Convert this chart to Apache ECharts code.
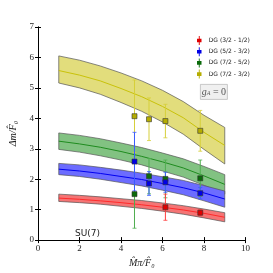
<!DOCTYPE html>
<html><head><meta charset="utf-8">
<script src="https://cdn.jsdelivr.net/npm/echarts@6/dist/echarts.min.js"></script>
<style>html,body{margin:0;padding:0;background:#fff}#c{width:273px;height:273px}</style>
</head><body><div id="c"></div>
<script>
// ---- data ----
const bandX = [1, 2, 3, 4, 5, 6, 7, 8, 9];
const yellowMid = [5.57, 5.42, 5.23, 4.98, 4.71, 4.39, 4.02, 3.54, 3.11];
const yellowUp  = [6.05, 5.91, 5.72, 5.49, 5.23, 4.92, 4.55, 4.10, 3.70];
const yellowLo  = [5.16, 5.00, 4.79, 4.52, 4.23, 3.88, 3.48, 2.98, 2.50];
const greenMid  = [3.25, 3.16, 3.05, 2.91, 2.75, 2.57, 2.37, 2.11, 1.83];
const greenUp   = [3.52, 3.44, 3.33, 3.19, 3.04, 2.86, 2.67, 2.42, 2.15];
const greenLo   = [2.98, 2.89, 2.77, 2.63, 2.47, 2.27, 2.07, 1.80, 1.51];
const blueMid   = [2.33, 2.27, 2.19, 2.09, 1.99, 1.86, 1.72, 1.55, 1.35];
const blueUp    = [2.52, 2.47, 2.39, 2.30, 2.20, 2.08, 1.96, 1.79, 1.61];
const blueLo    = [2.15, 2.09, 2.00, 1.89, 1.78, 1.64, 1.49, 1.29, 1.08];
const redMid    = [1.38, 1.34, 1.29, 1.23, 1.16, 1.08, 0.99, 0.88, 0.75];
const redUp     = [1.51, 1.47, 1.42, 1.36, 1.30, 1.22, 1.13, 1.02, 0.90];
const redLo     = [1.27, 1.23, 1.18, 1.11, 1.04, 0.95, 0.85, 0.73, 0.60];

const redPtsX = [6.14, 7.82];
const redPtsY = [1.08, 0.90];
const redPtsE = [0.43, 0.10];
const bluePtsX = [4.65, 5.35, 6.14, 7.82];
const bluePtsY = [2.58, 1.86, 1.90, 1.54];
const bluePtsE = [0.96, 0.39, 0.33, 0.19];
const greenPtsX = [4.65, 5.35, 6.14, 7.82];
const greenPtsY = [1.51, 2.10, 2.01, 2.03];
const greenPtsE = [1.12, 0.58, 0.62, 0.60];
const yellowPtsX = [4.65, 5.35, 6.14, 7.82];
const yellowPtsY = [4.07, 3.97, 3.91, 3.59];
const yellowPtsE = [1.19, 0.70, 0.55, 0.67];

const seriesNames = ['DG (3/2 - 1/2)', 'DG (5/2 - 3/2)', 'DG (7/2 - 5/2)', 'DG (7/2 - 3/2)'];
const xTicks = [0, 2, 4, 6, 8, 10];
const yTicks = [0, 1, 2, 3, 4, 5, 6, 7];

// ---- build ----
function bandSeries(up, lo, mid, fill, lineColor) {
  return {
    type: 'custom', silent: true, z: 2,
    data: [[0]],
    renderItem: function (params, api) {
      const upper = bandX.map((x, i) => api.coord([x, up[i]]));
      const lower = bandX.map((x, i) => api.coord([x, lo[i]])).reverse();
      const center = bandX.map((x, i) => api.coord([x, mid[i]]));
      return {
        type: 'group', children: [
          { type: 'polygon', shape: { points: upper.concat(lower) },
            style: { fill: fill, stroke: '#555', lineWidth: 0.7 } },
          { type: 'polyline', shape: { points: center },
            style: { fill: null, stroke: lineColor, lineWidth: 1 } }
        ]
      };
    }
  };
}
function errSeries(xs, ys, es, color) {
  return {
    type: 'custom', silent: true, z: 3,
    data: xs.map((x, i) => [x, ys[i], es[i]]),
    renderItem: function (params, api) {
      const x = api.value(0), y = api.value(1), e = api.value(2);
      const top = api.coord([x, y + e]);
      const bot = api.coord([x, y - e]);
      return {
        type: 'group', children: [
          { type: 'line', shape: { x1: top[0], y1: top[1], x2: bot[0], y2: bot[1] },
            style: { stroke: color, lineWidth: 1 } },
          { type: 'line', shape: { x1: top[0] - 2, y1: top[1], x2: top[0] + 2, y2: top[1] },
            style: { stroke: color, lineWidth: 0.8 } },
          { type: 'line', shape: { x1: bot[0] - 2, y1: bot[1], x2: bot[0] + 2, y2: bot[1] },
            style: { stroke: color, lineWidth: 0.8 } }
        ]
      };
    }
  };
}
function ptSeries(name, xs, ys, color) {
  return {
    type: 'scatter', name: name, z: 4, symbol: 'rect', symbolSize: 5,
    data: xs.map((x, i) => [x, ys[i]]),
    itemStyle: { color: color, borderColor: '#333', borderWidth: 0.6, opacity: 1 }
  };
}

const serif = 'Liberation Serif';
const iconPath = 'path://M4.5,0h1v3h2v4h-2v3h-1v-3h-2v-4h2z';

const option = {
  animation: false,
  backgroundColor: '#fff',
  grid: { left: 34, right: 27.5, top: 27, bottom: 28, containLabel: false },
  legend: {
    data: seriesNames, orient: 'vertical', left: 192, top: 31,
    itemWidth: 5, itemHeight: 9, itemGap: 2.2, icon: iconPath,
    itemStyle: { borderWidth: 0 },
    textStyle: { fontSize: 6, fontFamily: 'DejaVu Sans', color: '#222', padding: [0, 0, 0, 2] }
  },
  xAxis: [
    { type: 'value', min: 0, max: 10, interval: 2, position: 'bottom',
      name: 'M\u0302\u03c0/F\u0302\u2080', nameLocation: 'middle', nameGap: 16,
      nameTextStyle: { fontFamily: serif, fontStyle: 'italic', fontSize: 10, color: '#222' },
      axisLine: { lineStyle: { color: '#000', width: 1 } },
      axisTick: { inside: true, length: 3, lineStyle: { color: '#000' } },
      axisLabel: { fontFamily: serif, fontSize: 9, color: '#222', margin: 4 },
      splitLine: { show: false } },
    { type: 'value', min: 0, max: 10, interval: 2, position: 'top',
      axisLine: { lineStyle: { color: '#000', width: 1 } },
      axisTick: { inside: true, length: 3, lineStyle: { color: '#000' } },
      axisLabel: { show: false }, splitLine: { show: false } }
  ],
  yAxis: [
    { type: 'value', min: 0, max: 7, interval: 1, position: 'left',
      name: '\u0394m/F\u0302\u2080', nameLocation: 'middle', nameGap: 20, nameRotate: 90,
      nameTextStyle: { fontFamily: serif, fontStyle: 'italic', fontSize: 10, color: '#222' },
      axisLine: { lineStyle: { color: '#000', width: 1 } },
      axisTick: { inside: true, length: 3, lineStyle: { color: '#000' } },
      axisLabel: { fontFamily: serif, fontSize: 9, color: '#222', margin: 4 },
      splitLine: { show: false } },
    { type: 'value', min: 0, max: 7, interval: 1, position: 'right',
      axisLine: { lineStyle: { color: '#000', width: 1 } },
      axisTick: { inside: true, length: 3, lineStyle: { color: '#000' } },
      axisLabel: { show: false }, splitLine: { show: false } }
  ],
  graphic: [
    { type: 'group', left: 200, top: 84, children: [
      { type: 'rect', shape: { x: 0, y: 0, width: 27, height: 15 },
        style: { fill: '#f0f0f0', stroke: '#bbb', lineWidth: 0.8 } },
      { type: 'text', x: 13.5, y: 7.5, style: {
        text: '{g|g}{s|A}{t| = 0}', align: 'center', verticalAlign: 'middle',
        rich: { g: { fontFamily: serif, fontStyle: 'italic', fontSize: 10, fill: '#555' },
                s: { fontFamily: serif, fontStyle: 'italic', fontSize: 6, fill: '#555', verticalAlign: 'bottom', padding: [4,0,0,0] },
                t: { fontFamily: serif, fontSize: 10, fill: '#555' } } } }
    ] },
    { type: 'text', left: 75, top: 229, style: { text: 'SU(7)', fontFamily: 'DejaVu Sans', fontSize: 9, fill: '#222' } }
  ],
  series: [
    bandSeries(yellowUp, yellowLo, yellowMid, '#e2dd7c', '#c9c20a'),
    bandSeries(greenUp, greenLo, greenMid, '#82c282', '#1f8c1f'),
    bandSeries(blueUp, blueLo, blueMid, '#6c6cff', '#0000f0'),
    bandSeries(redUp, redLo, redMid, '#f57474', '#ff2a2a'),
    errSeries(yellowPtsX, yellowPtsY, yellowPtsE, '#d6cf3a'),
    errSeries(greenPtsX, greenPtsY, greenPtsE, '#4fae4f'),
    errSeries(bluePtsX, bluePtsY, bluePtsE, '#3a5cff'),
    errSeries(redPtsX, redPtsY, redPtsE, '#ff3c3c'),
    ptSeries(seriesNames[3], yellowPtsX, yellowPtsY, '#b5ad00'),
    ptSeries(seriesNames[2], greenPtsX, greenPtsY, '#0a6a0a'),
    ptSeries(seriesNames[1], bluePtsX, bluePtsY, '#0000e6'),
    ptSeries(seriesNames[0], redPtsX, redPtsY, '#e00000')
  ]
};
const chart = echarts.init(document.getElementById('c'), null, { renderer: 'canvas' });
chart.setOption(option);
</script></body></html>
